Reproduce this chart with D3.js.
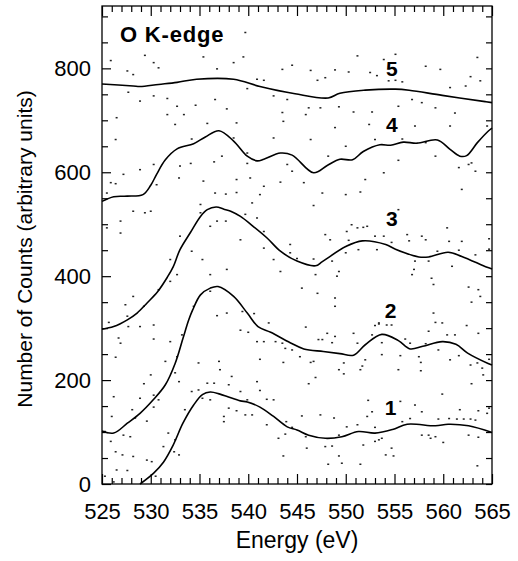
<!DOCTYPE html>
<html>
<head>
<meta charset="utf-8">
<script src="https://cdn.jsdelivr.net/npm/d3@7"></script>
<style>
  body { margin: 0; background: #fff; }
  svg { display: block; font-family: "Liberation Sans", Arial, sans-serif; }
  .axis path.domain { display: none; }
  .axis line { stroke: #000; stroke-width: 1.2; }
  .axis text { font-size: 22px; fill: #000; }
</style>
</head>
<body>
<svg id="chart" width="518" height="561"></svg>
<script>
// energy axis (eV) and count axis
const energyTicks = d3.range(525, 566, 5);
const energyMinor = d3.range(525, 566, 1);
const countTicks = [0, 200, 400, 600, 800];
const countMinor = d3.range(0, 901, 50);

// smoothed spectra, [energy, counts]
const spectrum1 = [[528.9,0],[530.3,21],[531.3,42],[532.3,75],[533.3,117],[534.4,152],[535.3,172],[536.1,177],[537.1,173],[537.9,168],[539.2,160],[539.9,158],[541.2,148],[542.6,130],[544,110],[545,104],[546.2,94],[547.9,88],[549.6,91],[551.3,101],[553,98],[554.8,105],[556.3,115],[559.2,112],[560.5,115],[562.6,112],[565,99]];
const spectrum2 = [[525,102],[526.2,98],[527.6,117],[528.9,136],[530.3,163],[531.5,191],[532.5,232],[533.3,280],[533.9,316],[534.3,335],[535.1,364],[536.1,377],[536.9,380],[538.5,361],[539.9,329],[541,303],[542.3,292],[544.3,272],[545.7,260],[547.7,255],[549.4,251],[550.8,248],[552,268],[553.7,288],[555.4,276],[556.6,260],[557.9,265],[559.9,274],[561.3,269],[562.5,252],[564.6,232],[565,229]];
const spectrum3 = [[525,298],[526.2,303],[527.6,316],[528.6,329],[529.6,348],[530.7,370],[531.7,398],[532.3,418],[533,451],[534.1,485],[535.1,515],[535.8,528],[536.7,533],[537.5,529],[538.2,525],[539.2,515],[540.5,496],[541.9,474],[543.3,448],[545,429],[546.9,420],[547.6,428],[550,457],[551.7,468],[554.1,461],[555.1,452],[557.5,437],[558.5,437],[560.5,446],[561.9,438],[564.5,417],[565,414]];
const spectrum4 = [[525,544],[526.2,553],[527.6,554],[529.2,557],[530,575],[530.6,596],[531.5,624],[532.7,645],[534.4,655],[535.6,668],[537,680],[538.5,660],[539.9,631],[540.9,622],[541.6,625],[543.3,637],[544.5,633],[546.7,599],[548.1,613],[549.4,625],[550.7,624],[551.8,640],[553.5,653],[554.6,652],[555.9,658],[557.3,656],[559.4,662],[560.7,644],[561.7,631],[562.4,632],[563.5,657],[564.6,679],[565,685]];
const spectrum5 = [[525,770],[528.2,766],[528.9,765],[530.8,769],[532.7,773],[534.7,779],[538.5,779],[541.2,765],[544.8,751],[548.2,743],[549.4,752],[552,758],[555.1,760],[556.5,758],[559.9,748],[564.3,736],[565,734]];

const spectra = [spectrum1, spectrum2, spectrum3, spectrum4, spectrum5];
const spectrumNames = ["1", "2", "3", "4", "5"];
const nameEnergy = [554.6, 554.6, 554.74, 554.74, 554.74];
const nameCounts = [133, 319, 497, 677, 785];

// raw measured counts, [energy, counts]
const rawCounts = [
  [539.7,869],[525.9,815],[529.4,825],[530.3,811],[530.8,801],[527.6,795],[528.2,788],[535.4,822],[538.5,811],[539.5,822],
  [536.8,799],[540.9,779],[541.6,777],[544.5,806],[543.5,798],[527.7,754],[528.9,737],[530.3,747],[531.7,742],[532.7,727],
  [534.6,729],[536.6,740],[539.9,761],[542.6,747],[544.0,740],[526.5,705],[531.7,711],[533.4,711],[537.8,722],[543.5,715],
  [543.6,698],[532.5,692],[535.8,694],[538.8,695],[526.4,663],[534.2,664],[538.5,666],[542.6,666],[537.3,631],[539.9,637],
  [555.1,827],[551.2,824],[553.9,817],[546.4,796],[548.9,797],[550.3,793],[552.5,792],[553.2,786],[558.2,804],[559.7,798],
  [563.5,821],[562.8,784],[547.1,777],[547.9,782],[554.4,776],[555.1,777],[555.8,774],[560.7,763],[562.3,766],[563.8,776],
  [546.2,724],[547.4,724],[549.3,726],[550.8,716],[552.7,716],[555.4,727],[556.8,740],[557.8,734],[559.2,724],[561.2,714],
  [545.9,711],[548.9,686],[552.4,692],[557.1,689],[560.7,689],[564.5,689],[546.4,663],[550.0,650],[553.0,663],[555.8,664],
  [558.2,657],[548.2,631],[559.2,631],[562.9,618],
  [530.3,615],[533.0,612],[534.1,617],[536.5,620],[539.9,617],[544.0,615],[544.5,602],[527.2,596],[528.9,605],[532.9,589],
  [535.4,583],[525.9,580],[526.4,578],[530.6,576],[538.8,586],[540.2,589],[541.6,573],[543.3,581],[525.5,560],[541.2,557],
  [536.6,560],[537.7,558],[538.8,561],[528.2,525],[529.4,522],[530.0,525],[535.1,538],[540.4,541],[526.9,506],[535.1,522],
  [536.8,506],[537.7,506],[539.7,519],[540.9,512],[525.5,493],[526.9,483],[533.0,477],[536.1,496],[541.6,486],[539.2,470],
  [544.3,461],[544.3,445],[541.6,454],[542.6,432],[534.2,448],[532.0,432],[535.3,432],[537.8,413],[536.1,403],[543.3,409],
  [532.7,403],[530.8,374],[528.2,361],[527.4,345],[529.3,342],[534.4,342],[532.0,390],[536.1,371],[537.8,329],[536.8,324],
  [539.4,332],[540.6,328],[542.1,310],[527.6,323],[525.7,311],
  [555.4,623],[561.6,609],[562.6,615],[563.3,602],[553.9,599],[552.0,586],[545.7,580],[561.9,567],[547.6,560],[550.0,557],
  [551.5,562],[546.7,536],[555.4,528],[550.6,499],[551.2,493],[551.8,494],[552.2,496],[550.1,486],[547.9,480],[548.4,470],
  [553.0,477],[553.9,477],[556.3,480],[557.8,477],[560.4,493],[560.6,467],[561.9,467],[564.7,472],[545.0,434],[546.7,433],
  [550.3,469],[551.3,451],[553.2,451],[554.7,465],[556.5,468],[558.2,470],[559.4,448],[561.6,450],[563.3,441],[564.7,452],
  [548.6,429],[550.0,445],[557.1,429],[558.5,429],[560.9,419],[549.3,409],[549.1,400],[546.9,403],[556.8,403],[557.0,413],
  [558.8,396],[559.0,384],[545.5,377],[547.1,367],[548.9,358],[548.9,342],[562.6,379],[563.6,374],[563.8,361],[562.9,350],
  [553.4,310],[559.0,329],[559.9,310],
  [527.7,303],[528.9,303],[530.3,306],[526.7,281],[526.9,271],[530.3,279],[532.0,274],[533.2,287],[526.4,244],[531.5,236],
  [532.7,245],[539.2,296],[540.0,292],[540.9,274],[541.6,274],[542.8,274],[543.5,271],[543.8,261],[544.5,258],[541.2,240],
  [543.6,234],[534.9,233],[537.0,236],[537.1,220],[530.0,210],[532.5,214],[532.9,197],[538.3,207],[540.9,197],[529.3,193],
  [535.8,194],[536.5,194],[534.2,178],[534.9,181],[538.0,191],[539.2,178],[541.2,180],[526.2,168],[528.9,165],[530.3,171],
  [535.3,165],[536.1,162],[539.9,162],[541.9,163],[542.6,162],[528.1,143],[530.8,162],[530.3,148],[533.5,143],[538.0,146],
  [538.8,141],[539.7,133],[540.4,133],[526.0,130],[528.4,127],[529.6,121],[537.5,130],[537.5,120],[541.9,114],[543.9,120],
  [544.5,109],[525.3,101],[527.2,94],[531.8,98],[525.9,82],[527.9,91],[532.5,85],[543.8,96],[543.1,88],[531.3,72],
  [532.4,62],[532.9,56],[526.4,62],[527.1,56],[528.2,53],[529.6,46],[530.1,43],[543.6,54],[526.5,27],[527.6,26],
  [530.5,15],[525.3,15],[526.2,4],
  [553.0,305],[553.4,308],[554.2,306],[554.7,306],[559.2,311],[562.4,305],[545.9,302],[548.1,290],[548.9,284],[550.8,290],
  [552.7,287],[558.5,294],[560.4,287],[561.2,287],[563.6,290],[547.2,278],[547.6,278],[548.6,272],[551.2,271],[553.7,272],
  [556.1,279],[556.6,271],[558.2,270],[559.5,258],[545.3,245],[546.4,234],[546.7,236],[549.8,233],[552.0,239],[553.7,249],
  [555.6,247],[557.5,245],[557.7,234],[560.7,239],[561.6,247],[562.8,229],[563.5,233],[564.7,240],[549.3,220],[549.8,212],
  [551.5,220],[551.7,227],[555.4,220],[557.7,218],[564.0,223],[564.1,210],[546.9,205],[546.2,193],[562.9,193],[559.9,173],
  [552.3,161],[555.6,159],[557.1,152],[557.8,139],[552.7,139],[564.7,146],[563.6,141],[561.7,143],[564.5,136],[545.5,131],
  [547.4,133],[548.8,127],[552.2,130],[556.6,126],[559.5,125],[560.6,126],[561.4,125],[562.1,125],[562.8,125],[563.3,123],
  [550.1,110],[551.2,114],[553.0,109],[555.8,120],[545.9,91],[549.3,94],[553.7,88],[557.8,94],[558.5,94],[558.7,88],
  [559.2,91],[562.6,94],[563.6,90],[547.9,72],[548.6,73],[551.8,75],[553.0,82],[553.4,85],[554.7,69],[560.0,80],
  [546.0,69],[549.3,54],[554.1,56],[554.9,54],[548.2,38],[551.5,38],[563.5,35],[549.6,40]
];

const svg = d3.select("#chart");
const width = +svg.attr("width");
const height = +svg.attr("height");
const margin = { top: 6, right: 26, bottom: 77, left: 102 };
const iw = width - margin.left - margin.right;
const ih = height - margin.top - margin.bottom;

const g = svg.append("g").attr("transform", `translate(${margin.left},${margin.top})`);

const x = d3.scaleLinear().domain([525, 565]).range([0, iw]);
const y = d3.scaleLinear().domain([0, 920]).range([ih, 0]);

// raw points as tiny dashes
g.append("g")
  .selectAll("rect")
  .data(rawCounts)
  .enter()
  .append("rect")
  .attr("x", d => x(d[0]) - 1)
  .attr("y", d => y(d[1]) - 0.75)
  .attr("width", 2)
  .attr("height", 1.5)
  .attr("fill", "#222");

const line = d3.line()
  .x(d => x(d[0]))
  .y(d => y(d[1]))
  .curve(d3.curveCatmullRom.alpha(0.5));

g.append("g")
  .selectAll("path")
  .data(spectra)
  .enter()
  .append("path")
  .attr("d", line)
  .attr("fill", "none")
  .attr("stroke", "#000")
  .attr("stroke-width", 1.6);

// ticks, all pointing inward
const xMinorTicks = energyMinor.filter(v => !energyTicks.includes(v));
const yMinorTicks = countMinor.filter(v => !countTicks.includes(v));

g.append("g").attr("class", "axis")
  .attr("transform", `translate(0,${ih})`)
  .call(d3.axisBottom(x).tickValues(xMinorTicks).tickSize(-6).tickFormat(""));
g.append("g").attr("class", "axis")
  .attr("transform", `translate(0,${ih})`)
  .call(d3.axisBottom(x).tickValues(energyTicks).tickSize(-10).tickPadding(19).tickFormat(d3.format("d")));
g.append("g").attr("class", "axis")
  .call(d3.axisTop(x).tickValues(xMinorTicks).tickSize(-6).tickFormat(""));
g.append("g").attr("class", "axis")
  .call(d3.axisTop(x).tickValues(energyTicks).tickSize(-10).tickFormat(""));

g.append("g").attr("class", "axis")
  .call(d3.axisLeft(y).tickValues(yMinorTicks).tickSize(-6).tickFormat(""));
g.append("g").attr("class", "axis")
  .call(d3.axisLeft(y).tickValues(countTicks).tickSize(-9).tickPadding(11).tickFormat(d3.format("d")));
g.append("g").attr("class", "axis")
  .attr("transform", `translate(${iw},0)`)
  .call(d3.axisRight(y).tickValues(countMinor).tickSize(-6).tickFormat(""));

// frame
g.append("rect")
  .attr("width", iw)
  .attr("height", ih)
  .attr("fill", "none")
  .attr("stroke", "#000")
  .attr("stroke-width", 1.3);

// spectrum numbers
g.append("g")
  .selectAll("text")
  .data(spectrumNames)
  .enter()
  .append("text")
  .attr("x", (d, i) => x(nameEnergy[i]))
  .attr("y", (d, i) => y(nameCounts[i]))
  .attr("text-anchor", "middle")
  .attr("font-size", 21)
  .attr("font-weight", "bold")
  .text(d => d);

g.append("text")
  .attr("x", 18)
  .attr("y", 36)
  .attr("font-size", 22)
  .attr("font-weight", "bold")
  .attr("letter-spacing", 0.8)
  .text("O K-edge");

// axis titles
svg.append("text")
  .attr("x", margin.left + iw / 2)
  .attr("y", 548)
  .attr("text-anchor", "middle")
  .attr("font-size", 23)
  .text("Energy (eV)");

svg.append("text")
  .attr("transform", `translate(32,${margin.top + ih / 2 + 4}) rotate(-90)`)
  .attr("text-anchor", "middle")
  .attr("font-size", 21)
  .text("Number of Counts (arbitrary units)");
</script>
</body>
</html>
